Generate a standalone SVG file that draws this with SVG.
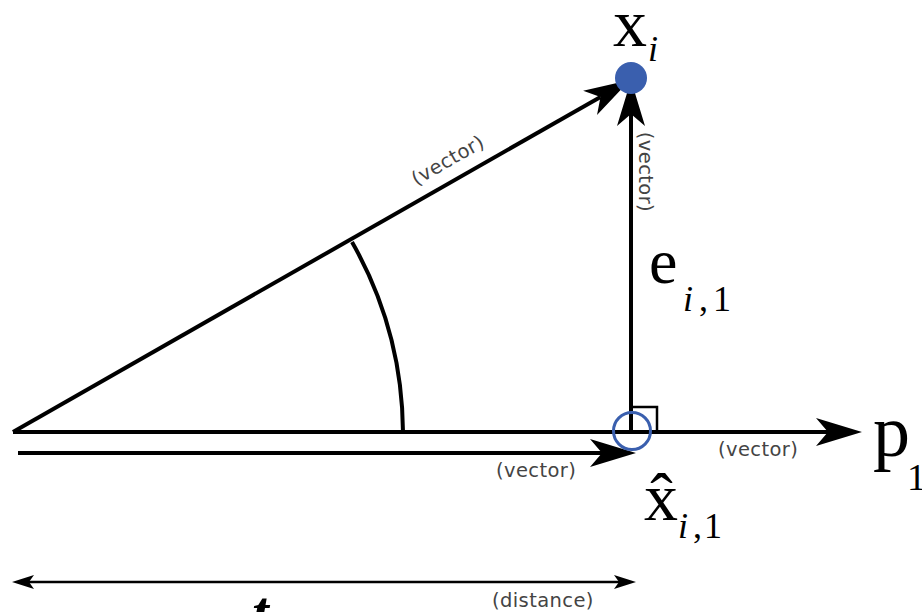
<svg xmlns="http://www.w3.org/2000/svg" width="922" height="612" viewBox="0 0 922 612">
<style>
.ln{stroke:#000;stroke-width:4;fill:none}
.lbl{font-family:"DejaVu Sans",sans-serif;font-size:19.5px;fill:#444;letter-spacing:0.4px}
</style>
<defs>
<marker id="ah" markerUnits="userSpaceOnUse" markerWidth="50" markerHeight="30" refX="12" refY="14" orient="auto" overflow="visible">
<path d="M46,14 L0,0 L12,14 L0,28 Z" fill="#000"/>
</marker>
<marker id="ahs" markerUnits="userSpaceOnUse" markerWidth="24" markerHeight="16" refX="5" refY="7" orient="auto-start-reverse" overflow="visible">
<path d="M22,7 L0,0 L5,7 L0,14 Z" fill="#000"/>
</marker>
</defs>
<rect width="922" height="612" fill="#fff"/>
<g id="connectors">
<line id="hyp" class="ln" x1="13" y1="432" x2="600.5" y2="96.9" marker-end="url(#ah)"/>
<line id="err" class="ln" x1="631" y1="432" x2="631" y2="114" marker-end="url(#ah)"/>
<line id="axis" class="ln" x1="13" y1="432" x2="828" y2="432" marker-end="url(#ah)"/>
<line id="proj" class="ln" x1="18" y1="453" x2="602" y2="453" marker-end="url(#ah)"/>
<line id="dist" x1="29" y1="582" x2="619" y2="582" stroke="#000" stroke-width="2.5" marker-start="url(#ahs)" marker-end="url(#ahs)"/>
<path id="angle" class="ln" d="M352,242 A390,390 0 0 1 403,432"/>
<path id="right" d="M631,407 H657 V432" stroke="#000" stroke-width="2.5" fill="none"/>
</g>
<g id="node-xi" font-family="Liberation Serif" fill="#000">
<circle cx="631" cy="78" r="16" fill="#3a5fae"/>
<text x="613" y="46" font-size="68">x</text>
<text x="648" y="61" font-size="36" font-style="italic">i</text>
</g>
<g id="node-xhat" font-family="Liberation Serif" fill="#000">
<circle cx="632" cy="431" r="18.5" fill="none" stroke="#3a5fae" stroke-width="3"/>
<text x="644" y="520" font-size="68">x̂</text>
<text y="538" font-size="36"><tspan font-style="italic" x="678">i</tspan><tspan x="693">,</tspan><tspan x="704">1</tspan></text>
</g>
<g id="node-e" font-family="Liberation Serif" fill="#000">
<text x="649" y="283" font-size="64">e</text>
<text y="311" font-size="36"><tspan font-style="italic" x="683">i</tspan><tspan x="699">,</tspan><tspan x="713">1</tspan></text>
</g>
<g id="node-p" font-family="Liberation Serif" fill="#000">
<text x="873" y="456" font-size="74">p</text>
<text x="907" y="490" font-size="38">1</text>
</g>
<g id="node-t" font-family="Liberation Serif" fill="#000">
<text x="252" y="632" font-size="60" font-weight="bold" font-style="italic">t</text>
</g>
<g id="labels">
<text class="lbl" transform="translate(451,166) rotate(-29.7)" text-anchor="middle">(vector)</text>
<text class="lbl" transform="translate(639,172) rotate(90)" text-anchor="middle">(vector)</text>
<text class="lbl" x="496" y="477">(vector)</text>
<text class="lbl" x="718" y="456">(vector)</text>
<text class="lbl" x="492" y="607">(distance)</text>
</g>
</svg>
